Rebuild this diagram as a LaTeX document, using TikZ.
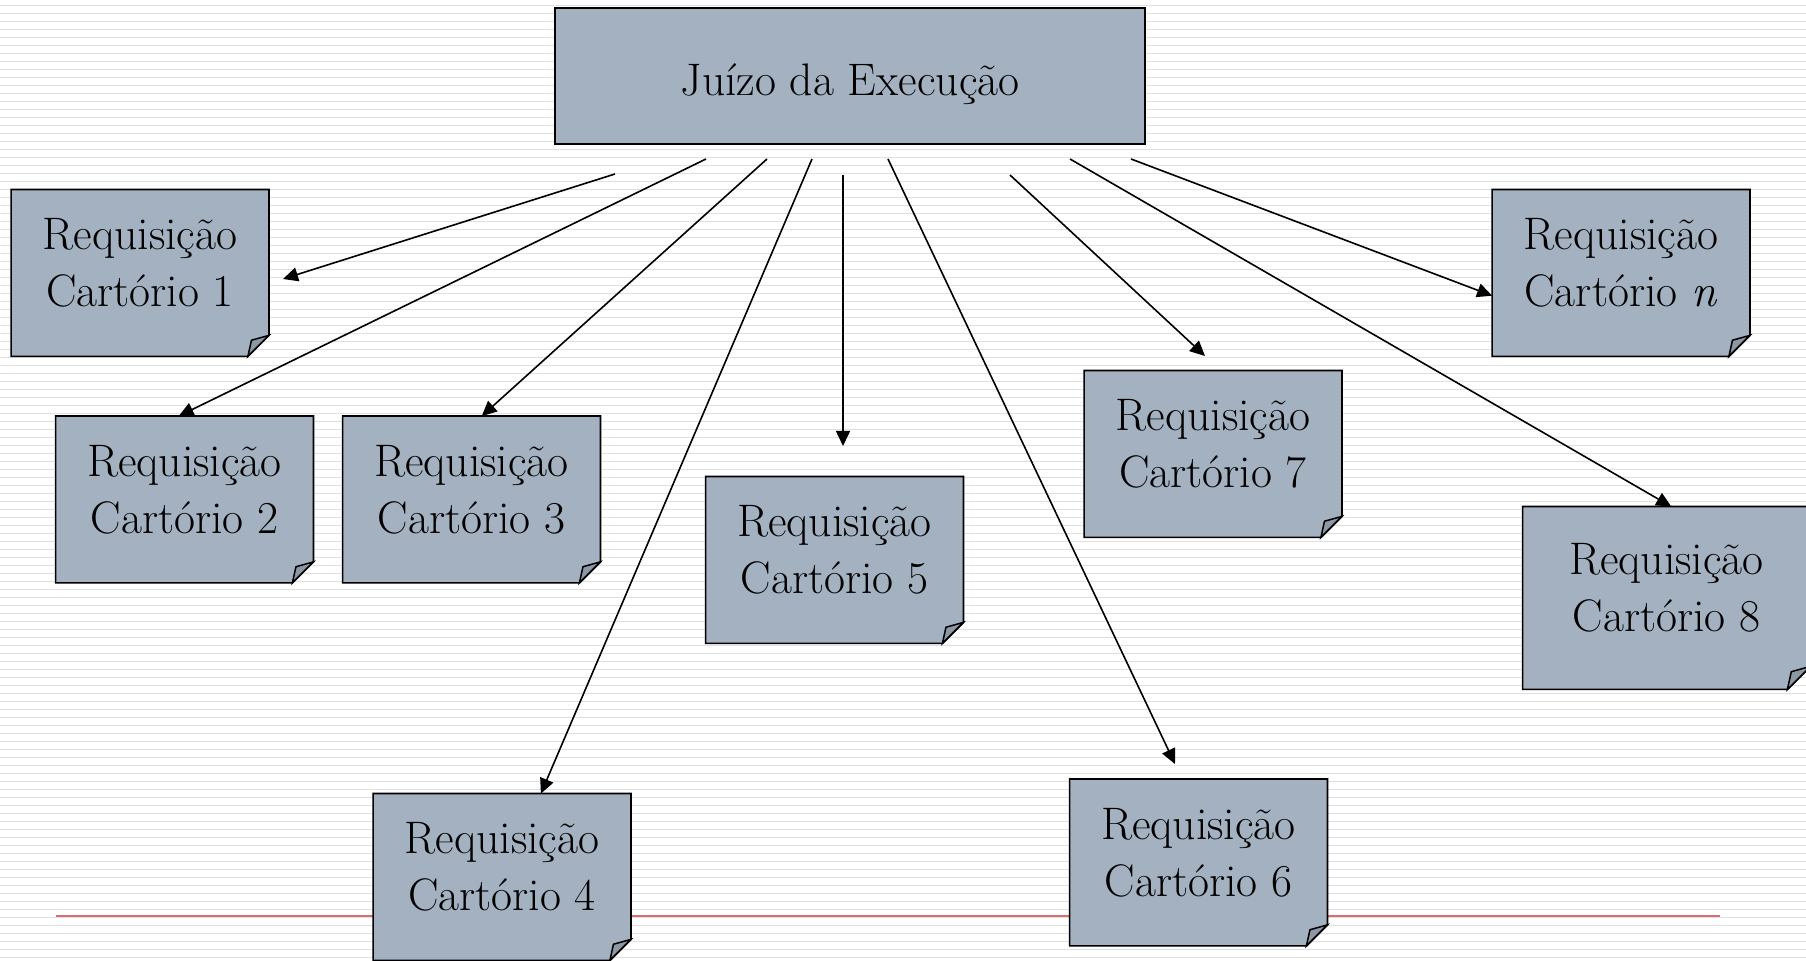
\documentclass[tikz,border=0pt]{standalone}
\usepackage{tikz}
\usetikzlibrary{arrows.meta,calc}

\definecolor{boxfill}{RGB}{163,177,192}
\definecolor{foldfill}{RGB}{140,152,166}
\definecolor{stripe}{RGB}{224,224,224}
\definecolor{redline}{RGB}{217,112,112}

\pgfdeclarelayer{back}
\pgfsetlayers{back,main}

\newcommand{\notefont}{\fontsize{22.8pt}{28.5pt}\selectfont}

\tikzset{
  listra/.style={draw=stripe, line width=0.85pt},
  juizo/.style={draw, line width=0.85pt, fill=boxfill, minimum width=295pt,
    minimum height=68pt, inner sep=0pt, font=\notefont, text height=20pt, text depth=0pt},
  cartorio/.style={minimum width=128.5pt, minimum height=83pt, inner sep=0pt,
    align=center, font=\notefont, text height=43pt, text depth=9pt},
  seta/.style={-{Triangle[length=7.5pt,width=7pt]}, line width=0.8pt},
}

\begin{document}
\begin{tikzpicture}[x=0.5pt, y=-0.5pt]
   \useasboundingbox (0,0) rectangle (1806,961);
   \begin{pgfonlayer}{back}
      \fill[white] (0,0) rectangle (1806,961);
      \foreach \y in {5.5,13.5,...,958} \draw[listra] (0,\y) -- (1806,\y);
      \draw[redline, line width=1pt] (56,916.5) -- (1720,916.5);
   \end{pgfonlayer}

   \node[juizo] (J) at (850,76) {Juízo da Execução};

   \node[cartorio] (C1) at (140,273) {Requisição\\Cartório 1};
   \node[cartorio] (C2) at (184.5,499.5) {Requisição\\Cartório 2};
   \node[cartorio] (C3) at (471.5,499.5) {Requisição\\Cartório 3};
   \node[cartorio] (C4) at (502,877) {Requisição\\Cartório 4};
   \node[cartorio] (C5) at (834.5,560) {Requisição\\Cartório 5};
   \node[cartorio] (C6) at (1198.5,862.5) {Requisição\\Cartório 6};
   \node[cartorio] (C7) at (1213,454) {Requisição\\Cartório 7};
   \node[cartorio, minimum width=143.5pt, minimum height=91pt] (C8) at (1666.5,598) {Requisição\\Cartório 8};
   \node[cartorio] (Cn) at (1621,273) {Requisição\\Cartório \textit{n}};

   % folded notes
   \begin{pgfonlayer}{back}
   \foreach \n/\c in {C1/21,C2/21,C3/21,C4/21,C5/21,C6/21,C7/21,C8/23,Cn/21}{
      \filldraw[fill=boxfill, line width=0.85pt, line join=miter]
         (\n.north west) -- (\n.north east) -- ($(\n.south east)+(0,-\c)$)
         -- ($(\n.south east)+(-\c,0)$) -- (\n.south west) -- cycle;
      \filldraw[fill=foldfill, line width=0.75pt]
         ($(\n.south east)+(-\c,0)$) -- ($(\n.south east)+(-0.83*\c,-0.77*\c)$)
         -- ($(\n.south east)+(0,-\c)$) -- cycle;
   }
   \end{pgfonlayer}

   \coordinate (S1) at (615,174);
   \coordinate (S2) at (706,159);
   \coordinate (S3) at (767,159);
   \coordinate (S4) at (812,159);
   \coordinate (S5) at (843,175);
   \coordinate (S6) at (888,159);
   \coordinate (S7) at (1010,175);
   \coordinate (S8) at (1070,159);
   \coordinate (Sn) at (1131,159);

   \coordinate (T1) at (283,279);
   \coordinate (T5) at (843,446);
   \coordinate (T6) at (1175,764);
   \coordinate (T7) at (1205,356);

   \draw[seta] (S1) -- (T1);
   \draw[seta] (S2) -- (C2.94);
   \draw[seta] (S3) -- (C3.83);
   \draw[seta] (S4) -- (C4.65);
   \draw[seta] (S5) -- (T5);
   \draw[seta] (S6) -- (T6);
   \draw[seta] (S7) -- (T7);
   \draw[seta] (S8) -- (C8.87);
   \draw[seta] (Sn) -- (Cn.190);
\end{tikzpicture}
\end{document}
